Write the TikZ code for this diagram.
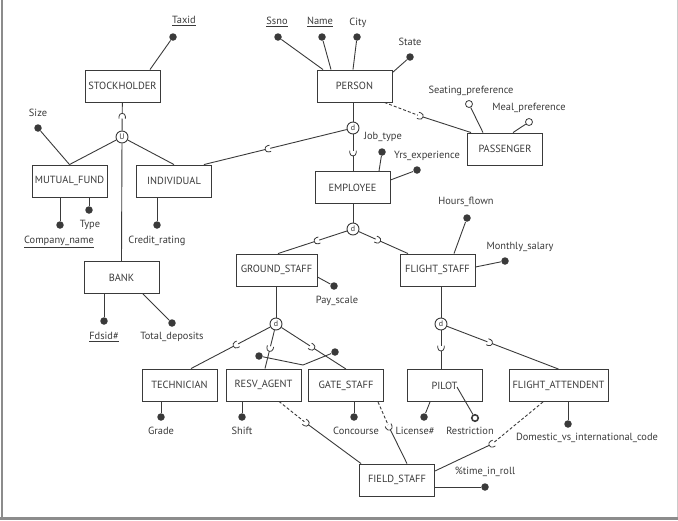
\documentclass[tikz,border=0pt]{standalone}
\usepackage{fontspec}
\setmainfont{PT Sans}
\usepackage{tikz}
\usetikzlibrary{decorations.markings}
\definecolor{ErInk}{HTML}{3A3A3A}
\definecolor{ErFrame}{HTML}{8C8C8C}

\begin{document}
\begin{tikzpicture}[x=1pt, y=-1pt, font=\fontsize{10.4}{12}\selectfont,
  line width=0.9pt, draw=ErInk, text=ErInk,
  ent/.style={draw=ErInk, fill=white, minimum width=75pt, minimum height=32pt,
              inner sep=1pt},
  att/.style={circle, fill=ErInk, inner sep=0pt, minimum size=7.5pt},
  opt/.style={circle, draw=ErInk, fill=white, inner sep=0pt, minimum size=7pt,
              line width=0.8pt},
  lbl/.style={inner sep=0.5pt, text height=7pt, text depth=2pt},
  spec/.style={circle, draw=ErInk, fill=white, inner sep=0pt, minimum size=12pt,
               font=\fontsize{8}{8}\selectfont},
  submark/.style={postaction={decorate, decoration={markings,
      mark=at position #1 with {
        \fill[white] (-2pt,-3.4pt) rectangle (2.8pt,3.4pt);
        \draw[ErInk, line width=0.8pt] (-2.2pt,3.2pt) -- (0pt,3.2pt)
          arc[start angle=90, end angle=-90, radius=3.2pt] -- (-2.2pt,-3.2pt);}}}},
  submark/.default=0.5,
  part/.style={dash pattern=on 3pt off 2pt},
]
\useasboundingbox (0,0) rectangle (678,520);

%% ---- frame ----
\draw[ErFrame, line width=1.5pt] (2,0) -- (2,517);
\draw[ErFrame!45, line width=0.6pt] (677,0) -- (677,517);
\draw[ErFrame, line width=3pt] (0,518.5) -- (678,518.5);

%% ---- entities ----
\node[ent] (stock) at (122.5,86) {STOCKHOLDER};
\node[ent] (mfund) at (69.5,181) {MUTUAL\_FUND};
\node[ent] (indiv) at (174,181) {INDIVIDUAL};
\node[ent] (bank) at (121.5,277.5) {BANK};
\node[ent] (person) at (354.5,86) {PERSON};
\node[ent] (pass) at (505,149) {PASSENGER};
\node[ent] (emp) at (352.5,187.5) {EMPLOYEE};
\node[ent, minimum width=81pt] (gstaff) at (276.5,270) {GROUND\_STAFF};
\node[ent] (fstaff) at (437.5,270) {FLIGHT\_STAFF};
\node[ent] (tech) at (179.5,385) {TECHNICIAN};
\node[ent] (resv) at (263.5,385) {RESV\_AGENT};
\node[ent] (gate) at (346,385.5) {GATE\_STAFF};
\node[ent] (pilot) at (444.5,385.5) {PILOT};
\node[ent, minimum width=99pt] (fatt) at (558.5,385.5) {FLIGHT\_ATTENDENT};
\node[ent] (field) at (397,480) {FIELD\_STAFF};

%% ---- union / disjoint circles ----
\node[spec] (cu) at (122,137) {U};
\node[spec] (cd1) at (353,128) {d};
\node[spec] (cd2) at (353,229) {d};
\node[spec] (cd3) at (276,324) {d};
\node[spec] (cd4) at (441,324) {d};

%% ---- attributes ----
\foreach \n/\x/\y/\lx/\ly/\txt in {
  taxid/173/37/184/21/\underline{Taxid},
  size/38/128/38/114/Size,
  cname/60/225/59/241/\underline{Company\_name},
  type/89/210/90/225/Type,
  credit/157/225/157/241/Credit\_rating,
  fdsid/104/321/104/337/\underline{Fdsid\#},
  tdep/172/323/172/337/Total\_deposits,
  ssno/278/37/277/22/\underline{Ssno},
  name/322/37/320/22/\underline{Name},
  city/357/37/358/23/City,
  state/410/57/410/43/State,
  jtype/382/152/383/137/Job\_type,
  yrs/417/170/427/156/Yrs\_experience,
  pay/334/286/337/301/Pay\_scale,
  hours/467/218/466/202/Hours\_flown,
  msal/505/261/520/247/Monthly\_salary,
  grade/161/417/161/432/Grade,
  shift/242/417/242/432/Shift,
  conc/354/417/356/432/Concourse,
  lic/424/417/415/432/License\#,
  dom/568/424/587/438/Domestic\_vs\_international\_code,
  troll/485/487/485/472/\%time\_in\_roll}
{
  \node[att] (\n) at (\x,\y) {};
  \node[lbl] (\n-t) at (\lx,\ly) {\txt};
}
\foreach \n/\x/\y/\lx/\ly/\txt in {
  seat/469/104/471/91/Seating\_preference,
  meal/529/122/529/108/Meal\_preference}
{
  \node[opt] (\n) at (\x,\y) {};
  \node[lbl] (\n-t) at (\lx,\ly) {\txt};
}
\node[opt, line width=1.6pt, minimum size=6.5pt] (restr) at (475,418) {};
\node[lbl] (restr-t) at (470,432) {Restriction};
\node[att] (xa) at (259,356) {};
\node[att] (xb) at (335,352) {};
\coordinate (xk) at (303,365);

%% ---- attribute links ----
\draw (taxid) -- ([xshift=27.5pt]stock.north);
\draw (size) -- (mfund.north);
\draw (cname) -- ([xshift=-9.5pt]mfund.south);
\draw (type) -- ([xshift=19.5pt]mfund.south);
\draw (credit) -- ([xshift=-17pt]indiv.south);
\draw (fdsid) -- ([xshift=-17.5pt]bank.south);
\draw (tdep) -- ([xshift=21.5pt]bank.south);
\draw (ssno) -- ([xshift=-31.5pt]person.north);
\draw (name) -- ([xshift=-23.5pt]person.north);
\draw (city) -- ([xshift=-1.5pt]person.north);
\draw (state) -- ([yshift=-3pt]person.north east);
\draw (seat) -- ([xshift=-22pt]pass.north);
\draw (meal) -- ([xshift=8pt]pass.north);
\draw (jtype) -- ([xshift=26.5pt]emp.north);
\draw (yrs) -- ([yshift=7.5pt]emp.east);
\draw (pay) -- ([yshift=-7pt]gstaff.east);
\draw (hours) -- ([xshift=16.5pt]fstaff.north);
\draw (msal) -- ([yshift=3pt]fstaff.east);
\draw (grade) -- ([xshift=-18.5pt]tech.south);
\draw (shift) -- ([xshift=-21.5pt]resv.south);
\draw (conc) -- ([xshift=8pt]gate.south);
\draw (lic) -- ([xshift=-14.5pt]pilot.south);
\draw ([xshift=12.5pt,yshift=-1.5pt]pilot.center) -- (restr);
\draw (dom) -- ([xshift=9.5pt]fatt.south);
\draw (troll) -- ([yshift=-7pt]field.east);
\draw (xa) -- (xk) -- (xb);

%% ---- category: stockholder ----
\draw[submark] (cu) -- (stock);
\draw (cu) -- (mfund.north);
\draw (cu) -- (indiv.north);
\draw (cu) -- (bank.north);

%% ---- person specialisation ----
\draw (cd1 |- person.south) -- (cd1);
\draw[submark] (cd1) -- (emp.north -| cd1);
\draw[submark=0.55] (cd1) -- ([xshift=-8pt]indiv.north east);
\coordinate (pm) at (420,116);
\draw[part] ([xshift=-8pt]person.south east) -- (pm);
\draw[submark=0] (pm) -- ([xshift=4pt]pass.north west);

%% ---- employee specialisation ----
\draw (emp.south -| cd2) -- (cd2);
\draw[submark=0.43] (cd2) -- ([xshift=1.5pt]gstaff.north);
\draw[submark=0.38] (cd2) -- ([xshift=-29.5pt]fstaff.north);
\draw (gstaff.south -| cd3) -- (cd3);
\draw[submark=0.43] (cd3) -- ([xshift=11.5pt]tech.north);
\draw[submark=0.47] (cd3) -- ([xshift=1.5pt]resv.north);
\draw[submark=0.47] (cd3) -- (gate.north);
\draw (fstaff.south -| cd4) -- (cd4);
\draw[submark=0.45] (cd4) -- (pilot.north -| cd4);
\draw[submark=0.38] (cd4) -- (fatt.north);

%% ---- shared subclass: field staff ----
\coordinate (rm) at (306,423);
\coordinate (gm) at (389,427);
\coordinate (fm) at (492,444);
\draw[part] ([xshift=15.5pt]resv.south) -- (rm);
\draw[submark=0] (rm) -- ([xshift=2pt]field.north west);
\draw[part] ([xshift=32pt]gate.south) -- (gm);
\draw[submark=0] (gm) -- ([xshift=10pt]field.north);
\draw[part] ([xshift=-15.5pt]fatt.south) -- (fm);
\draw[submark=0] (fm) -- ([yshift=9pt]field.east);
\end{tikzpicture}
\end{document}
